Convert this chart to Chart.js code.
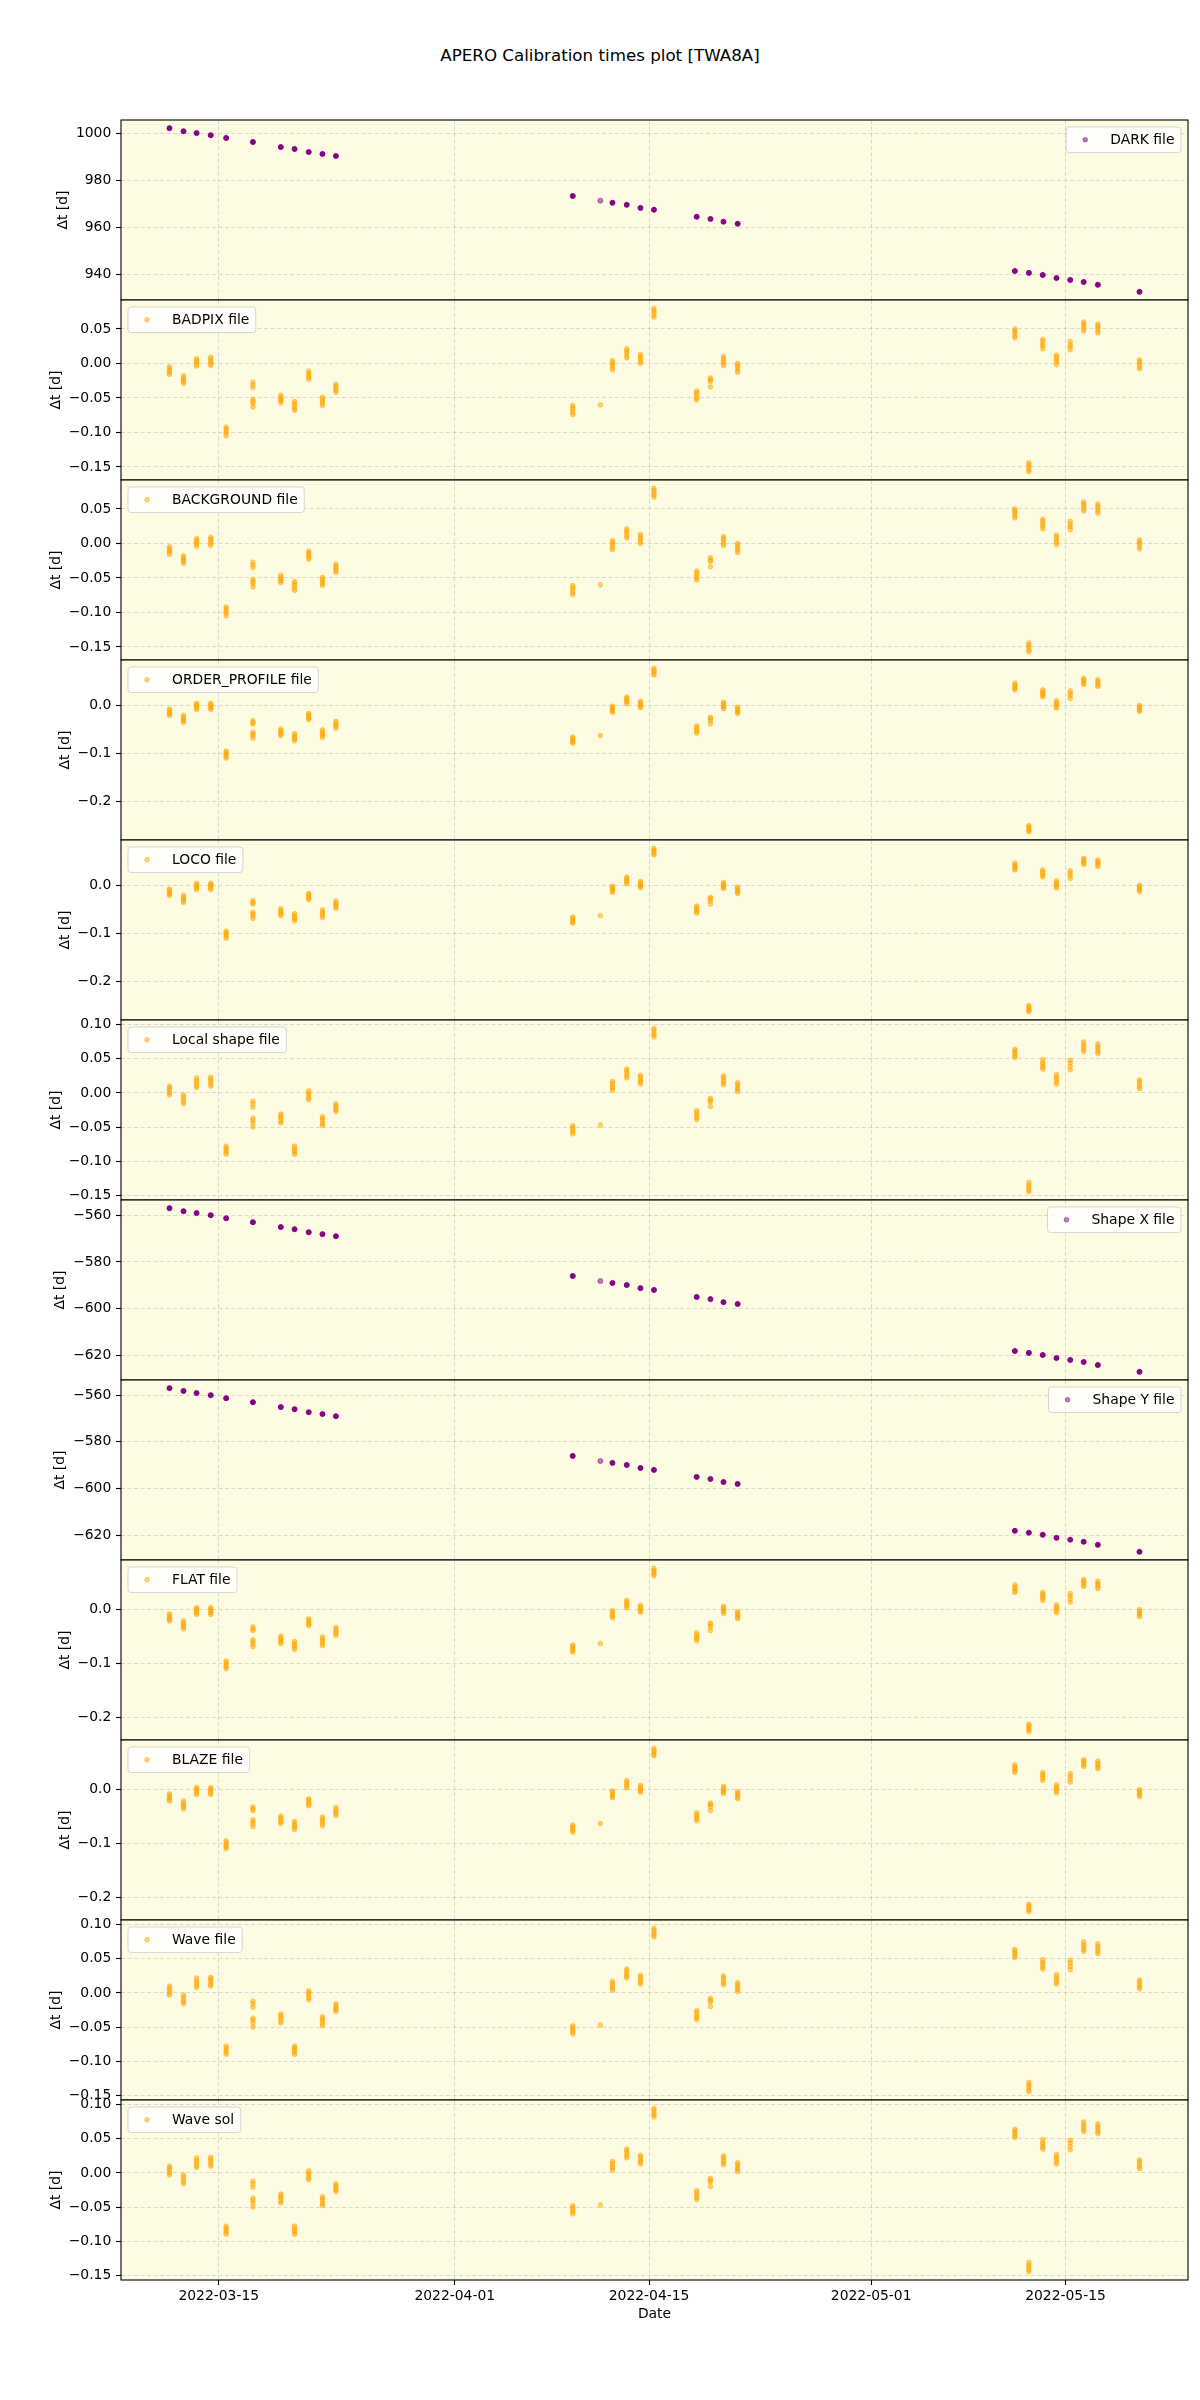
<!DOCTYPE html>
<html>
<head>
<meta charset="utf-8">
<title>APERO Calibration times plot [TWA8A]</title>
<script src="https://cdn.jsdelivr.net/npm/chart.js@4.4.0/dist/chart.umd.min.js"></script>
<style>
  body { margin: 0; background: #fff; }
  #wrap { position: relative; width: 1200px; height: 2400px; }
  #title { position: absolute; left: 0; top: 45px; width: 1200px; text-align: center;
           font: 16.7px "DejaVu Sans", sans-serif; line-height: 20px; color: #000; }
  canvas { position: absolute; left: 0; }
</style>
</head>
<body>
<div id="wrap">
  <div id="title">APERO Calibration times plot [TWA8A]</div>
</div>
<script>
// observing nights, in days since 2022-03-15 00:00
const obsDays = [-3.55, -2.54, -1.60, -0.58, 0.53, 2.46, 4.47, 5.46, 6.48, 7.47, 8.44,
  25.50, 27.49, 28.36, 29.39, 30.38, 31.35, 34.43, 35.42, 36.36, 37.38,
  57.35, 58.36, 59.36, 60.35, 61.34, 62.31, 63.33, 66.33];

const xTickDays = [0, 17, 31, 47, 61];
const xTickLabels = ['2022-03-15', '2022-04-01', '2022-04-15', '2022-05-01', '2022-05-15'];

// y tick values per kind of panel
const darkTicks = [940, 960, 980, 1000];
const shapeTicks = [-620, -600, -580, -560];
const fineTicks = [-0.15, -0.10, -0.05, 0.00, 0.05, 0.10];
const coarseTicks = [-0.2, -0.1, 0.0];

// one value per night (several identical files stacked on top of each other)
const darkDt = [1002.4, 1001.1, 1000.3, 999.4, 998.2, 996.5, 994.3, 993.5, 992.2, 991.4, 990.5,
  973.4, 971.4, 970.5, 969.6, 968.3, 967.5, 964.5, 963.6, 962.4, 961.5,
  941.3, 940.5, 939.6, 938.3, 937.5, 936.6, 935.4, 932.4];

const shapeXDt = [-557.0, -558.3, -559.1, -560.0, -561.3, -563.0, -565.1, -566.0, -567.3, -568.1, -569.0,
  -586.0, -588.2, -589.0, -589.9, -591.2, -592.0, -595.0, -595.9, -597.2, -598.0,
  -618.1, -618.9, -619.8, -621.1, -621.9, -622.8, -624.1, -627.0];

const shapeYDt = [-557.0, -558.2, -559.1, -560.0, -561.3, -563.0, -565.1, -566.0, -567.3, -568.1, -569.0,
  -586.0, -588.2, -589.0, -589.9, -591.2, -592.0, -595.0, -595.9, -597.2, -598.0,
  -618.1, -618.9, -619.8, -621.1, -621.9, -622.8, -624.1, -627.1];

// one list of values per night (one point per science file)
const badpixDt = [
  [-0.005, -0.008, -0.011, -0.013, -0.016],
  [-0.018, -0.021, -0.024, -0.026, -0.029],
  [0.007, 0.004, 0.002, -0.001, -0.004],
  [0.009, 0.006, 0.003, 0.000, -0.003],
  [-0.092, -0.095, -0.098, -0.101, -0.105],
  [-0.027, -0.031, -0.035, -0.052, -0.055, -0.058, -0.063],
  [-0.046, -0.049, -0.052, -0.054, -0.057],
  [-0.055, -0.058, -0.061, -0.065, -0.068],
  [-0.011, -0.014, -0.017, -0.020, -0.023],
  [-0.049, -0.052, -0.055, -0.058, -0.061],
  [-0.030, -0.033, -0.036, -0.039, -0.042],
  [-0.061, -0.064, -0.067, -0.071, -0.074],
  [-0.060],
  [0.004, 0.001, -0.002, -0.006, -0.009],
  [0.021, 0.018, 0.015, 0.011, 0.008],
  [0.013, 0.010, 0.007, 0.003, 0.000],
  [0.080, 0.077, 0.074, 0.070, 0.067],
  [-0.040, -0.043, -0.046, -0.050, -0.053],
  [-0.021, -0.024, -0.026, -0.034],
  [0.010, 0.007, 0.004, 0.000, -0.003],
  [0.000, -0.003, -0.006, -0.010, -0.013],
  [0.050, 0.047, 0.044, 0.040, 0.037],
  [-0.144, -0.147, -0.150, -0.154, -0.157],
  [0.035, 0.032, 0.028, 0.025, 0.021],
  [0.012, 0.009, 0.005, 0.002, -0.002],
  [0.032, 0.027, 0.024, 0.020],
  [0.060, 0.057, 0.054, 0.050, 0.047],
  [0.057, 0.054, 0.051, 0.047, 0.044],
  [0.005, 0.002, -0.001, -0.005, -0.008]
];
const backgroundDt = badpixDt; // same values in the plot

const orderProfileDt = [
  [-0.008, -0.011, -0.015, -0.018, -0.021],
  [-0.021, -0.025, -0.029, -0.032, -0.036],
  [0.004, 0.001, -0.002, -0.006, -0.009],
  [0.004, 0.001, -0.002, -0.006, -0.009],
  [-0.095, -0.099, -0.103, -0.106, -0.110],
  [-0.032, -0.036, -0.039, -0.056, -0.060, -0.064, -0.069],
  [-0.049, -0.053, -0.056, -0.060, -0.063],
  [-0.059, -0.063, -0.067, -0.070, -0.074],
  [-0.017, -0.020, -0.024, -0.027, -0.030],
  [-0.051, -0.055, -0.059, -0.063, -0.067],
  [-0.033, -0.037, -0.041, -0.044, -0.048],
  [-0.066, -0.069, -0.073, -0.076, -0.079],
  [-0.063],
  [-0.002, -0.005, -0.009, -0.012, -0.015],
  [0.017, 0.014, 0.010, 0.007, 0.003],
  [0.008, 0.005, 0.001, -0.002, -0.005],
  [0.077, 0.073, 0.070, 0.066, 0.063],
  [-0.043, -0.047, -0.051, -0.054, -0.058],
  [-0.025, -0.028, -0.032, -0.039],
  [0.006, 0.003, -0.001, -0.004, -0.007],
  [-0.004, -0.007, -0.011, -0.014, -0.017],
  [0.046, 0.042, 0.039, 0.035, 0.032],
  [-0.250, -0.253, -0.257, -0.260, -0.263],
  [0.032, 0.028, 0.025, 0.021, 0.017],
  [0.009, 0.005, 0.002, -0.002, -0.006],
  [0.030, 0.025, 0.020, 0.014],
  [0.056, 0.053, 0.050, 0.046, 0.043],
  [0.053, 0.049, 0.046, 0.042, 0.039],
  [0.000, -0.003, -0.007, -0.010, -0.013]
];
const locoDt = orderProfileDt; // same values in the plot

const flatDt = [
  [-0.008, -0.011, -0.015, -0.018, -0.021],
  [-0.021, -0.025, -0.029, -0.032, -0.036],
  [0.004, 0.001, -0.002, -0.006, -0.009],
  [0.004, 0.001, -0.002, -0.006, -0.009],
  [-0.095, -0.099, -0.103, -0.106, -0.110],
  [-0.032, -0.036, -0.039, -0.056, -0.060, -0.064, -0.069],
  [-0.049, -0.053, -0.056, -0.060, -0.063],
  [-0.059, -0.063, -0.067, -0.070, -0.074],
  [-0.017, -0.020, -0.024, -0.027, -0.030],
  [-0.051, -0.055, -0.059, -0.063, -0.067],
  [-0.033, -0.037, -0.041, -0.044, -0.048],
  [-0.066, -0.069, -0.073, -0.076, -0.079],
  [-0.063],
  [-0.002, -0.005, -0.009, -0.012, -0.015],
  [0.017, 0.014, 0.010, 0.007, 0.003],
  [0.008, 0.005, 0.001, -0.002, -0.005],
  [0.077, 0.073, 0.070, 0.066, 0.063],
  [-0.043, -0.047, -0.051, -0.054, -0.058],
  [-0.025, -0.028, -0.032, -0.039],
  [0.006, 0.003, -0.001, -0.004, -0.007],
  [-0.004, -0.007, -0.011, -0.014, -0.017],
  [0.046, 0.042, 0.039, 0.035, 0.032],
  [-0.213, -0.216, -0.220, -0.223, -0.227],
  [0.032, 0.028, 0.025, 0.021, 0.017],
  [0.009, 0.005, 0.002, -0.002, -0.006],
  [0.030, 0.025, 0.020, 0.014],
  [0.056, 0.053, 0.050, 0.046, 0.043],
  [0.053, 0.049, 0.046, 0.042, 0.039],
  [0.000, -0.003, -0.007, -0.010, -0.013]
];
const blazeDt = flatDt; // same values in the plot

const localShapeDt = [
  [0.010, 0.007, 0.004, 0.000, -0.003],
  [-0.003, -0.006, -0.010, -0.013, -0.016],
  [0.022, 0.018, 0.015, 0.011, 0.008],
  [0.023, 0.020, 0.017, 0.013, 0.010],
  [-0.078, -0.081, -0.084, -0.087, -0.090],
  [-0.012, -0.016, -0.021, -0.037, -0.040, -0.044, -0.050],
  [-0.031, -0.034, -0.037, -0.041, -0.044],
  [-0.078, -0.081, -0.084, -0.087, -0.090],
  [0.003, 0.000, -0.003, -0.007, -0.010],
  [-0.035, -0.038, -0.041, -0.045, -0.048],
  [-0.016, -0.019, -0.022, -0.025, -0.027],
  [-0.048, -0.051, -0.054, -0.057, -0.060],
  [-0.047],
  [0.017, 0.014, 0.010, 0.007, 0.004],
  [0.035, 0.032, 0.028, 0.025, 0.022],
  [0.026, 0.023, 0.019, 0.016, 0.013],
  [0.095, 0.092, 0.088, 0.085, 0.082],
  [-0.026, -0.029, -0.033, -0.036, -0.039],
  [-0.008, -0.011, -0.013, -0.020],
  [0.025, 0.022, 0.018, 0.015, 0.012],
  [0.015, 0.012, 0.008, 0.005, 0.002],
  [0.064, 0.061, 0.058, 0.055, 0.052],
  [-0.131, -0.135, -0.138, -0.142, -0.145],
  [0.049, 0.045, 0.042, 0.038, 0.035],
  [0.027, 0.023, 0.020, 0.016, 0.013],
  [0.048, 0.044, 0.039, 0.034],
  [0.075, 0.071, 0.068, 0.064, 0.061],
  [0.072, 0.068, 0.065, 0.061, 0.058],
  [0.019, 0.016, 0.012, 0.009, 0.006]
];
const waveDt = localShapeDt;    // same values in the plot
const waveSolDt = localShapeDt; // same values in the plot

// number of files per night, used to darken the stacked purple points
const filesPerNight = badpixDt.map(c => c.length);

const PURPLE = [128, 0, 128];
const ORANGE = [255, 165, 0];

const panels = [
  { label: 'DARK file', values: darkDt, ticks: darkTicks, decimals: 0, color: PURPLE, legendAt: 'right' },
  { label: 'BADPIX file', values: badpixDt, ticks: fineTicks, decimals: 2, color: ORANGE, legendAt: 'left' },
  { label: 'BACKGROUND file', values: backgroundDt, ticks: fineTicks, decimals: 2, color: ORANGE, legendAt: 'left' },
  { label: 'ORDER_PROFILE file', values: orderProfileDt, ticks: coarseTicks, decimals: 1, color: ORANGE, legendAt: 'left' },
  { label: 'LOCO file', values: locoDt, ticks: coarseTicks, decimals: 1, color: ORANGE, legendAt: 'left' },
  { label: 'Local shape file', values: localShapeDt, ticks: fineTicks, decimals: 2, color: ORANGE, legendAt: 'left' },
  { label: 'Shape X file', values: shapeXDt, ticks: shapeTicks, decimals: 0, color: PURPLE, legendAt: 'right' },
  { label: 'Shape Y file', values: shapeYDt, ticks: shapeTicks, decimals: 0, color: PURPLE, legendAt: 'right' },
  { label: 'FLAT file', values: flatDt, ticks: coarseTicks, decimals: 1, color: ORANGE, legendAt: 'left' },
  { label: 'BLAZE file', values: blazeDt, ticks: coarseTicks, decimals: 1, color: ORANGE, legendAt: 'left' },
  { label: 'Wave file', values: waveDt, ticks: fineTicks, decimals: 2, color: ORANGE, legendAt: 'left' },
  { label: 'Wave sol', values: waveSolDt, ticks: fineTicks, decimals: 2, color: ORANGE, legendAt: 'left' }
];

// layout (px)
const PLOT_TOP = 120;
const PANEL_H = 180;
const PLOT_LEFT = 121;
const PLOT_RIGHT = 1188;
const PAD = 14;
const X_AXIS_H = 47;
const FONT_PX = 13.9;
const FONT = `${FONT_PX}px "DejaVu Sans"`;
const BG = '#fdfbe2';
const GRID = 'rgba(176,176,176,0.45)';

Chart.defaults.font.family = '"DejaVu Sans", sans-serif';
Chart.defaults.font.size = FONT_PX;
Chart.defaults.color = '#000';

const rgba = (c, a) => `rgba(${c[0]},${c[1]},${c[2]},${a})`;

// shared x range: matplotlib-like 5% margin around the data
const dayMin = Math.min(...obsDays);
const dayMax = Math.max(...obsDays);
const xMin = dayMin - 0.05 * (dayMax - dayMin);
const xMax = dayMax + 0.05 * (dayMax - dayMin);

function fmtTick(v, decimals) {
  let s = v.toFixed(decimals);
  if (parseFloat(s) === 0) s = (0).toFixed(decimals);
  return s.replace('-', '\u2212');
}

function panelDecor(p) {
  return {
    id: 'panelDecor',
    beforeDraw(chart) {
      const { ctx, chartArea: a } = chart;
      ctx.save();
      ctx.fillStyle = BG;
      ctx.fillRect(a.left, a.top, a.right - a.left, a.bottom - a.top);
      ctx.restore();
    },
    afterDatasetsDraw(chart) {
      const { ctx, chartArea: a } = chart;
      ctx.save();
      // frame
      ctx.strokeStyle = '#000';
      ctx.lineWidth = 1.1;
      ctx.strokeRect(a.left, a.top, a.right - a.left, a.bottom - a.top);

      // legend box
      ctx.font = FONT;
      const tw = ctx.measureText(p.label).width;
      const bw = tw + 50.5, bh = 25.5;
      const bx = p.legendAt === 'right' ? a.right - 7 - bw : a.left + 7;
      const by = a.top + 7;
      ctx.beginPath();
      ctx.roundRect(bx, by, bw, bh, 3);
      ctx.fillStyle = 'rgba(255,255,255,0.8)';
      ctx.fill();
      ctx.strokeStyle = 'rgba(204,204,204,0.8)';
      ctx.lineWidth = 1;
      ctx.stroke();
      ctx.beginPath();
      ctx.arc(bx + 19, by + bh / 2, 2.3, 0, Math.PI * 2);
      ctx.fillStyle = rgba(p.color, 0.5);
      ctx.fill();
      ctx.strokeStyle = rgba(p.color, 0.5);
      ctx.stroke();
      ctx.fillStyle = '#000';
      ctx.textAlign = 'left';
      ctx.textBaseline = 'middle';
      ctx.fillText(p.label, bx + 44, by + bh / 2 + 0.5);

      // y label, placed left of the widest tick label
      const yScale = chart.scales.y;
      let maxW = 0;
      yScale.ticks.forEach(t => { maxW = Math.max(maxW, ctx.measureText(t.label).width); });
      const lx = a.left - 9.7 - maxW - 5.6;
      ctx.translate(lx, (a.top + a.bottom) / 2);
      ctx.rotate(-Math.PI / 2);
      ctx.textAlign = 'center';
      ctx.textBaseline = 'bottom';
      ctx.fillText('\u0394t [d]', 0, 0);
      ctx.restore();
    }
  };
}

const wrap = document.getElementById('wrap');

panels.forEach((p, i) => {
  const last = i === panels.length - 1;
  const h = PAD + PANEL_H + (last ? X_AXIS_H : 0) + PAD;
  const canvas = document.createElement('canvas');
  canvas.width = 1200;
  canvas.height = h;
  canvas.style.width = '1200px';
  canvas.style.height = h + 'px';
  canvas.style.top = (PLOT_TOP + i * PANEL_H - PAD) + 'px';
  wrap.appendChild(canvas);

  const pts = [];
  obsDays.forEach((d, k) => {
    const v = p.values[k];
    (Array.isArray(v) ? v : [v]).forEach(y => pts.push({ x: d, y: y, n: filesPerNight[k] }));
  });
  const ys = pts.map(q => q.y);
  const lo = Math.min(...ys), hi = Math.max(...ys);
  const yMin = lo - 0.05 * (hi - lo);
  const yMax = hi + 0.05 * (hi - lo);
  const stacked = !Array.isArray(p.values[0]);
  const alphaFor = ctx => {
    if (!stacked || !ctx.raw) return 0.5;
    return 1 - Math.pow(0.5, ctx.raw.n);
  };

  new Chart(canvas, {
    type: 'scatter',
    data: {
      datasets: [{
        label: p.label,
        data: pts,
        pointRadius: stacked ? 2.5 : 2.3,
        pointBorderWidth: 1,
        pointHoverRadius: stacked ? 2.5 : 2.3,
        pointBackgroundColor: ctx => rgba(p.color, alphaFor(ctx)),
        pointBorderColor: ctx => rgba(p.color, alphaFor(ctx))
      }]
    },
    options: {
      responsive: false,
      animation: false,
      events: [],
      devicePixelRatio: 1,
      layout: { padding: { left: 0, right: 1200 - PLOT_RIGHT, top: PAD, bottom: PAD } },
      plugins: { legend: { display: false }, tooltip: { enabled: false } },
      scales: {
        x: {
          type: 'linear',
          min: xMin,
          max: xMax,
          afterBuildTicks: axis => { axis.ticks = xTickDays.map(v => ({ value: v })); },
          afterFit: s => { s.height = last ? X_AXIS_H : 0; },
          ticks: {
            display: last,
            autoSkip: false,
            maxRotation: 0,
            padding: 3,
            callback: (v, idx) => xTickLabels[idx]
          },
          grid: {
            color: GRID,
            lineWidth: 1,
            drawTicks: last,
            tickLength: 5,
            tickColor: '#000',
            tickWidth: 1.1,
            tickBorderDash: []
          },
          border: { display: false, dash: [4, 2.5] },
          title: { display: last, text: 'Date', padding: { top: 4, bottom: 4 } }
        },
        y: {
          type: 'linear',
          min: yMin,
          max: yMax,
          afterBuildTicks: axis => {
            axis.ticks = p.ticks.filter(v => v >= yMin && v <= yMax).map(v => ({ value: v }));
          },
          afterFit: s => { s.width = PLOT_LEFT; },
          ticks: {
            autoSkip: false,
            padding: 4.7,
            callback: v => fmtTick(v, p.decimals)
          },
          grid: {
            color: GRID,
            lineWidth: 1,
            drawTicks: true,
            tickLength: 5,
            tickColor: '#000',
            tickWidth: 1.1,
            tickBorderDash: []
          },
          border: { display: false, dash: [4, 2.5] }
        }
      }
    },
    plugins: [panelDecor(p)]
  });
});
</script>
</body>
</html>
